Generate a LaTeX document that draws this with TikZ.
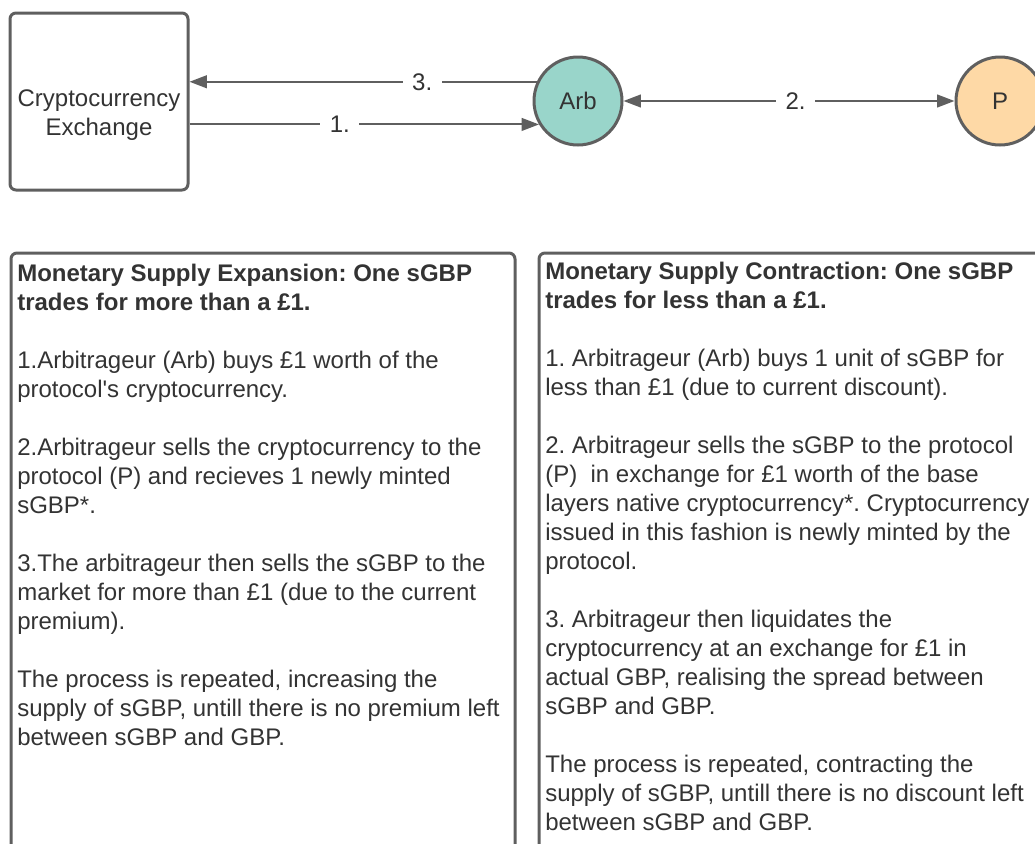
\documentclass[tikz,border=0pt]{standalone}
\usepackage{fontspec}
\setmainfont{Liberation Sans}[Ligatures=TeXOff]
\usetikzlibrary{arrows.meta}
\definecolor{edgegray}{HTML}{5F5F5F}
\definecolor{inkgray}{HTML}{333333}
\definecolor{arbteal}{HTML}{99D5CA}
\definecolor{protpeach}{HTML}{FED9A6}
\newcommand{\bodysize}{\fontsize{18}{21.75}\selectfont\frenchspacing}
\begin{document}
\begin{tikzpicture}[x=0.75pt,y=-0.75pt,
  >={Triangle[length=13pt,width=9.5pt]},
  panel/.style={draw=edgegray, line width=2.25pt, rounded corners=4.5pt},
  exbox/.style={draw=edgegray, line width=2.25pt, rounded corners=4.5pt,
    minimum width=133.5pt, minimum height=132.75pt, inner sep=0pt},
  party/.style={circle, draw=edgegray, line width=2.25pt, minimum size=66pt,
    inner sep=0pt, font=\bodysize, text=inkgray},
  flow/.style={draw=edgegray, line width=1.5pt},
  steplabel/.style={fill=white, inner xsep=7pt, inner ysep=1pt, font=\bodysize, text=inkgray},
  boxtext/.style={inner sep=0pt, align=center, font=\bodysize, text=inkgray},
  bodytext/.style={anchor=base west, inner sep=0pt, align=left, font=\bodysize, text=inkgray}]
\useasboundingbox (0,0) rectangle (1035,843);

% participants
\node[exbox] (ex) at (99,101.5) {};
\node[boxtext] (exname) at ([yshift=-10pt]ex.center) {Cryptocurrency\\Exchange};
\node[party, fill=arbteal] (arb) at (578,101) {Arb};
\node[party, fill=protpeach] (p) at (1000,101) {P};

% trades between them
\draw[flow, ->] (arb.155.8) -- (arb.155.8 -| ex.east)
  node[steplabel, pos=0.33] {3.};
\draw[flow, ->] (arb.211.5 -| ex.east) -- (arb.211.5)
  node[steplabel, pos=0.43] {1.};
\draw[flow, <->] (arb) -- (p)
  node[steplabel, pos=0.52] {2.};

% explanation panels
\draw[panel] (11,253) rectangle (515,880);
\draw[panel] (539,253) rectangle (1070,880);

% the text blocks are placed by the baseline of their last line
\node[bodytext] (expansion) at (17,745) {%
\textbf{Monetary Supply Expansion: One sGBP}\\
\textbf{trades for more than a £1.}\\[21.75pt]
1.Arbitrageur (Arb) buys £1 worth of the\\
protocol's cryptocurrency.\\[21.75pt]
2.Arbitrageur sells the cryptocurrency to the\\
protocol (P) and recieves 1 newly minted\\
sGBP*.\\[21.75pt]
3.The arbitrageur then sells the sGBP to the\\
market for more than £1 (due to the current\\
premium).\\[21.75pt]
The process is repeated, increasing the\\
supply of sGBP, untill there is no premium left\\
between sGBP and GBP.};

\node[bodytext] (contraction) at (545,830) {%
\textbf{Monetary Supply Contraction: One sGBP}\\
\textbf{trades for less than a £1.}\\[21.75pt]
1. Arbitrageur (Arb) buys 1 unit of sGBP for\\
less than £1 (due to current discount).\\[21.75pt]
2. Arbitrageur sells the sGBP to the protocol\\
(P)\ \ in exchange for £1 worth of the base\\
layers native cryptocurrency*. Cryptocurrency\\
issued in this fashion is newly minted by the\\
protocol.\\[21.75pt]
3. Arbitrageur then liquidates the\\
cryptocurrency at an exchange for £1 in\\
actual GBP, realising the spread between\\
sGBP and GBP.\\[21.75pt]
The process is repeated, contracting the\\
supply of sGBP, untill there is no discount left\\
between sGBP and GBP.};
\end{tikzpicture}
\end{document}
